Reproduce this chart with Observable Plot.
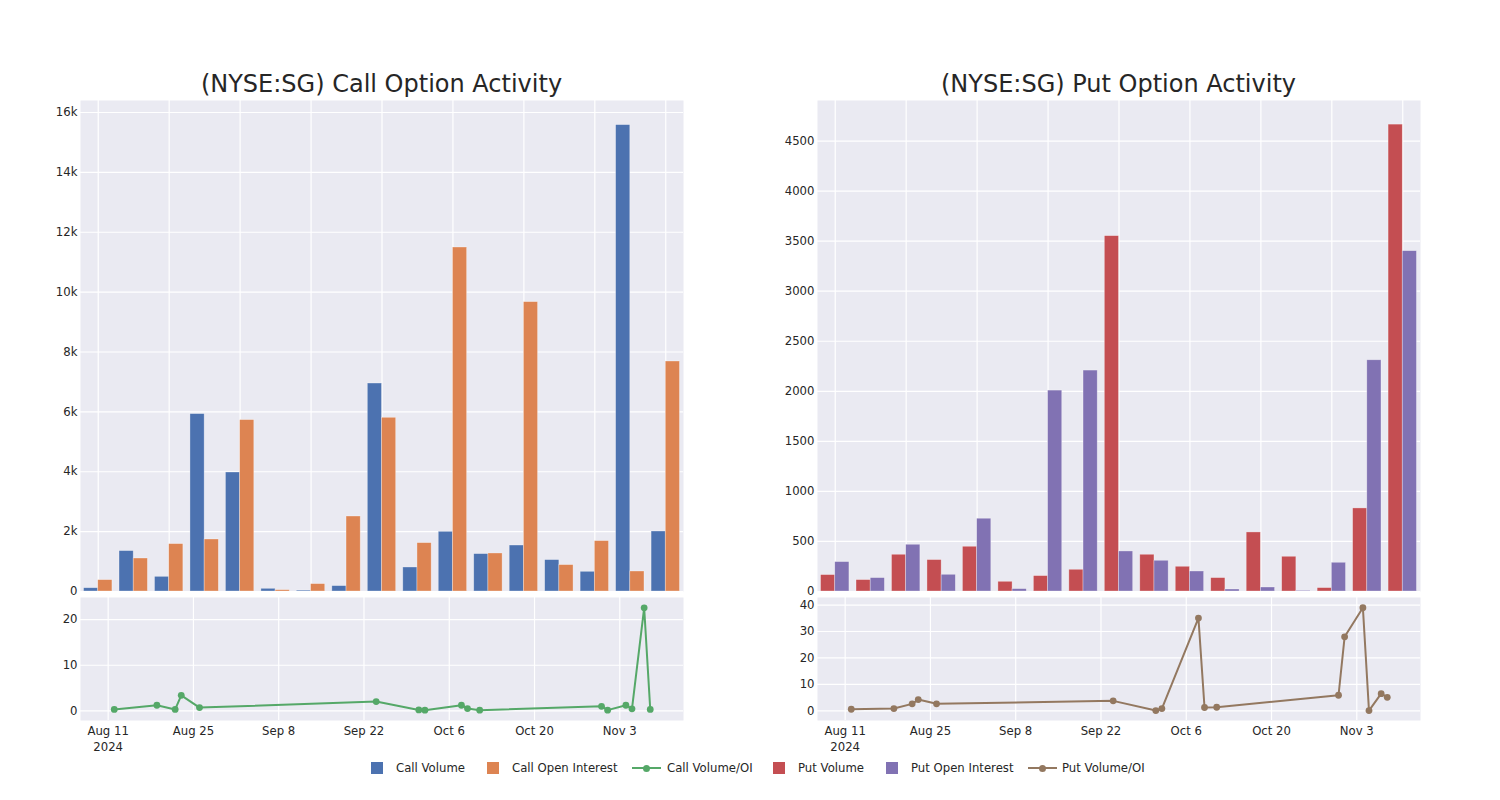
<!DOCTYPE html>
<html><head><meta charset="utf-8">
<script src="https://cdn.jsdelivr.net/npm/d3@7"></script>
<script src="https://cdn.jsdelivr.net/npm/@observablehq/plot@0.6"></script>
<style>
body{margin:0;background:#fff;}
#root{position:relative;width:1500px;height:800px;font-family:"DejaVu Sans",sans-serif;color:#262626;overflow:hidden;}
.title{position:absolute;text-align:center;font-size:24px;line-height:28px;top:70px;width:603px;white-space:nowrap;}
.panel{position:absolute;}
.leg{position:absolute;font-size:11.7px;line-height:14px;white-space:nowrap;top:761px;}
.sw{position:absolute;}
</style></head><body><div id="root"></div>
<script>
// ---- data ----
const dates = ["2024-08-12","2024-08-19","2024-08-22","2024-08-23","2024-08-26","2024-09-24","2024-10-01","2024-10-02","2024-10-08","2024-10-09","2024-10-11","2024-10-31","2024-11-01","2024-11-04","2024-11-05","2024-11-07","2024-11-08"];
const callVolume = [110,1350,490,5925,3975,90,30,180,6947,802,1994,1249,1536,1049,658,15578,2004];
const callOpenInterest = [380,1102,1583,1737,5725,45,247,2505,5802,1616,11490,1270,9666,882,1683,668,7682];
const callVolOI = [0.3,1.23,0.3,3.4,0.72,2.03,0.2,0.15,1.23,0.5,0.15,1.0,0.15,1.23,0.44,22.6,0.3];
const putVolume = [164,114,367,314,447,97,154,217,3550,367,247,134,590,347,34,830,4664];
const putOpenInterest = [294,134,467,167,727,24,2007,2207,400,307,200,20,40,7,287,2310,3400];
const putVolOI = [0.6,0.87,2.64,4.26,2.64,3.77,0.1,0.87,35.1,1.25,1.36,5.9,28.0,39.0,0.1,6.5,5.1];
const dateTickLabels = ["2024-08-11","2024-08-25","2024-09-08","2024-09-22","2024-10-06","2024-10-20","2024-11-03"];
const callYTicks = [0,2000,4000,6000,8000,10000,12000,14000,16000];
const putYTicks = [0,500,1000,1500,2000,2500,3000,3500,4000,4500];
const callRatioTicks = [0,10,20];
const putRatioTicks = [0,10,20,30,40];
const titles = ["(NYSE:SG) Call Option Activity","(NYSE:SG) Put Option Activity"];
const seriesNames = ["Call Volume","Call Open Interest","Call Volume/OI","Put Volume","Put Open Interest","Put Volume/OI"];
const colors = {callVol:"#4C72B0", callOI:"#DD8452", callRatio:"#55A868", putVol:"#C44E52", putOI:"#8172B3", putRatio:"#937860"};

const root = document.getElementById("root");
const BG = "#EAEAF2";
const style = {fontFamily:"DejaVu Sans", fontSize:"11.7px", color:"#262626", background:"transparent", overflow:"visible"};
const tickDates = dateTickLabels.map(d => new Date(d));
const fmtDate = d3.utcFormat("%b %-d");
const xDomain = [new Date("2024-08-06T11:00Z"), new Date("2024-11-13T11:00Z")];

function barChart(vol, oi, c1, c2, yTicks, yMax, fmt) {
  const rows = dates.map((d, i) => ({i, vol: vol[i], oi: oi[i]}));
  return Plot.plot({
    width: 693, height: 501, marginLeft: 80, marginRight: 10, marginTop: 5, marginBottom: 5,
    style,
    x: {type: "linear", domain: [-0.5, dates.length - 0.5], axis: null},
    y: {domain: [0, yMax], axis: null},
    marks: [
      Plot.frame({fill: BG, stroke: null}),
      Plot.ruleX(d3.range(0, dates.length, 2), {stroke: "#fff", strokeWidth: 1.2}),
      Plot.ruleY(yTicks, {stroke: "#fff", strokeWidth: 1.2}),
      Plot.rectY(rows, {x1: d => d.i - 0.4, x2: d => d.i, y: "vol", fill: c1, stroke: "#fff", strokeWidth: 0.7, strokeOpacity: 0.45}),
      Plot.rectY(rows, {x1: d => d.i, x2: d => d.i + 0.4, y: "oi", fill: c2, stroke: "#fff", strokeWidth: 0.7, strokeOpacity: 0.45}),
      Plot.axisY(yTicks, {tickSize: 0, tickPadding: 3, tickFormat: fmt, label: null, fill: "#262626"})
    ]
  });
}

function lineChart(vals, color, yTicks, yDomain) {
  const rows = dates.map((d, i) => ({date: new Date(d), v: vals[i]}));
  return Plot.plot({
    width: 693, height: 170, marginLeft: 80, marginRight: 10, marginTop: 6, marginBottom: 41,
    style,
    x: {type: "utc", domain: xDomain, axis: null},
    y: {domain: yDomain, axis: null},
    marks: [
      Plot.frame({fill: BG, stroke: null}),
      Plot.ruleX(tickDates, {stroke: "#fff", strokeWidth: 1.2}),
      Plot.ruleY(yTicks, {stroke: "#fff", strokeWidth: 1.2}),
      Plot.line(rows, {x: "date", y: "v", stroke: color, strokeWidth: 2}),
      Plot.dot(rows, {x: "date", y: "v", fill: color, r: 3.4, stroke: null}),
      Plot.axisY(yTicks, {tickSize: 0, tickPadding: 3, label: null, fill: "#262626"}),
      Plot.axisX(tickDates, {tickSize: 0, tickPadding: 4, label: null, fill: "#262626", lineHeight: 1.3,
        tickFormat: d => (+d === +tickDates[0] ? fmtDate(d) + "\n" + d.getUTCFullYear() : fmtDate(d))})
    ]
  });
}

function place(el, left, top) {
  el.classList.add("panel");
  el.style.left = left + "px";
  el.style.top = top + "px";
  root.appendChild(el);
}

const kfmt = d => d === 0 ? "0" : (d / 1000) + "k";
place(barChart(callVolume, callOpenInterest, colors.callVol, colors.callOI, callYTicks, 16400, kfmt), 0, 95);
place(barChart(putVolume, putOpenInterest, colors.putVol, colors.putOI, putYTicks, 4905, d => String(d)), 737, 95);
place(lineChart(callVolOI, colors.callRatio, callRatioTicks, [-2.12, 24.86]), 0, 591);
place(lineChart(putVolOI, colors.putRatio, putRatioTicks, [-3.66, 42.87]), 737, 591);

// titles
[[titles[0], 80], [titles[1], 817]].forEach(([t, x]) => {
  const d = document.createElement("div");
  d.className = "title"; d.textContent = t; d.style.left = x + "px";
  root.appendChild(d);
});

// legend
const legendItems = [
  {name: seriesNames[0], color: colors.callVol, kind: "rect", x: 371, tx: 396},
  {name: seriesNames[1], color: colors.callOI, kind: "rect", x: 487, tx: 512},
  {name: seriesNames[2], color: colors.callRatio, kind: "line", x: 632, tx: 667},
  {name: seriesNames[3], color: colors.putVol, kind: "rect", x: 773, tx: 798},
  {name: seriesNames[4], color: colors.putOI, kind: "rect", x: 886, tx: 911},
  {name: seriesNames[5], color: colors.putRatio, kind: "line", x: 1028, tx: 1062}
];
legendItems.forEach(it => {
  const sw = document.createElement("div");
  sw.className = "sw";
  if (it.kind === "rect") {
    Object.assign(sw.style, {left: it.x + "px", top: "762px", width: "12px", height: "12px", background: it.color});
  } else {
    Object.assign(sw.style, {left: it.x + "px", top: "767px", width: "29px", height: "2px", background: it.color});
    const dot = document.createElement("div");
    Object.assign(dot.style, {position: "absolute", left: "11px", top: "-2.5px", width: "7px", height: "7px", borderRadius: "50%", background: it.color});
    sw.appendChild(dot);
  }
  root.appendChild(sw);
  const t = document.createElement("div");
  t.className = "leg"; t.textContent = it.name; t.style.left = it.tx + "px";
  root.appendChild(t);
});
</script></body></html>
